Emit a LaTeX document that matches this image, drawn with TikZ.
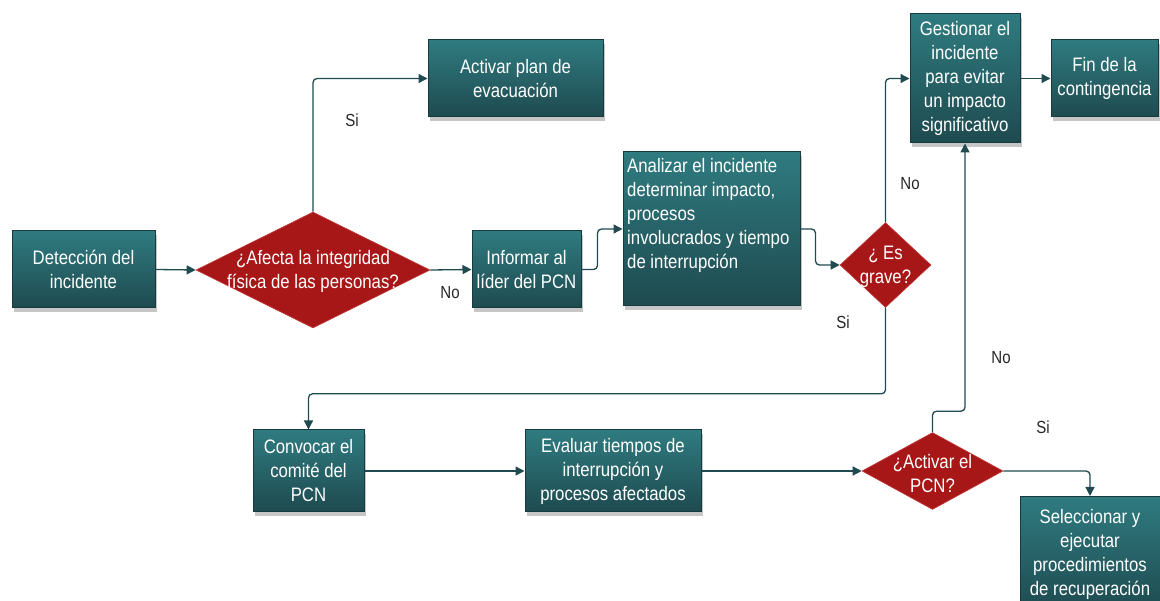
\documentclass[tikz,border=0pt]{standalone}
\usepackage{fontspec}
\setmainfont[FakeStretch=0.86]{Liberation Sans}
\usetikzlibrary{shapes.geometric,arrows.meta,shadows}
\definecolor{boxtop}{HTML}{2F7B80}
\definecolor{boxbot}{HTML}{1E4A4F}
\definecolor{boxline}{HTML}{163A3E}
\definecolor{decfill}{HTML}{A81717}
\definecolor{decline}{HTML}{C23A3A}
\definecolor{connc}{HTML}{1F4A50}
\begin{document}
\begin{tikzpicture}[x=1pt,y=-1pt,
 proc/.style={rectangle, draw=boxline, line width=1pt, top color=boxtop, bottom color=boxbot,
   drop shadow={opacity=0.45,shadow xshift=2pt,shadow yshift=-4pt},
   text=white, font=\fontsize{19.5}{24}\selectfont, align=center, inner sep=2pt},
 dec/.style={diamond, fill=decfill, draw=decline, line width=0.6pt, inner sep=0pt},
 dectext/.style={text=white, font=\fontsize{19.5}{24}\selectfont, align=center, inner sep=0pt},
 conn/.style={draw=connc, line width=1.3pt, -{Triangle[length=9pt,width=9pt]}, rounded corners=4pt},
 lab/.style={text=black!85, font=\fontsize{17.5}{20}\selectfont, inner sep=0pt}]
\useasboundingbox (0,0) rectangle (1160,601);

\node[proc, minimum width=143pt, minimum height=77pt] (det) at (83.5,269.5) {Detección del\\incidente};
\node[dec, minimum width=234pt, minimum height=116pt] (d1) at (313,270) {};
\node[dectext] (d1t) at (313,271) {¿Afecta la integridad\\física de las personas?};
\node[proc, minimum width=175pt, minimum height=77pt] (act) at (515.5,78.5) {Activar plan de\\evacuación};
\node[proc, minimum width=109pt, minimum height=77pt] (inf) at (526.5,269.5) {Informar al\\líder del PCN};
\node[proc, minimum width=177pt, minimum height=154pt] (ana) at (711.5,229) {};
\node[dectext, anchor=north west, align=left] (anat) at (627,158) {Analizar el incidente\\determinar impacto,\\procesos\\involucrados y tiempo\\de interrupción};
\node[dec, minimum width=91pt, minimum height=85pt] (grave) at (885.5,265) {};
\node[dectext] (gravet) at (885.5,267) {¿ Es\\grave?};
\node[proc, minimum width=110pt, minimum height=129pt] (gest) at (965,78.5) {Gestionar el\\incidente\\para evitar\\un impacto\\significativo};
\node[proc, minimum width=107pt, minimum height=77pt] (fin) at (1104.5,78.5) {Fin de la\\contingencia};
\node[proc, minimum width=111pt, minimum height=82pt] (conv) at (308.5,471) {Convocar el\\comité del\\PCN};
\node[proc, minimum width=176pt, minimum height=82pt] (eval) at (613,471) {Evaluar tiempos de\\interrupción y\\procesos afectados};
\node[dec, minimum width=141pt, minimum height=77pt] (pcn) at (932.5,471) {};
\node[dectext] (pcnt) at (932.5,474) {¿Activar el\\PCN?};
\node[proc, minimum width=140pt, minimum height=116pt, anchor=north] (sel) at (1090,496) {Seleccionar y\\ejecutar\\procedimientos\\de recuperación};

\draw[conn] (det.east) -- (d1.west);
\draw[conn] (d1.north) |- (act.west);
\draw[conn] (d1.east) -- (inf.west);
\draw[conn] (inf.east) -- ++(16,0) |- (ana.west);
\draw[conn] (ana.east) -- ++(15,0) |- (grave.west);
\draw[conn] (grave.north) |- (gest.west);
\draw[conn] (gest.east) -- (fin.west);
\draw[conn] (grave.south) -- ++(0,86) -| (conv.north);
\draw[conn] (conv.east) -- (eval.west);
\draw[conn] (eval.east) -- (pcn.west);
\draw[conn] (pcn.north) -- ++(0,-21) -| (gest.south);
\draw[conn] (pcn.east) -| (sel.north);

\node[lab] (l1) at (352,120) {Si};
\node[lab] (l2) at (450,293) {No};
\node[lab] (l3) at (910,184) {No};
\node[lab] (l4) at (843,322) {Si};
\node[lab] (l5) at (1001,358) {No};
\node[lab] (l6) at (1043,427) {Si};
\end{tikzpicture}
\end{document}
